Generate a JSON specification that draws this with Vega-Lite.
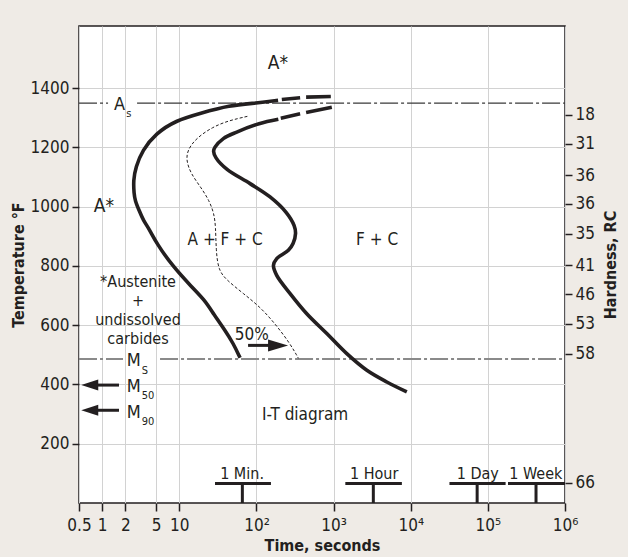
{
  "$schema": "https://vega.github.io/schema/vega-lite/v6.json",
  "width": 486,
  "height": 477,
  "autosize": {"type": "none"},
  "padding": {"left": 79, "top": 26, "right": 63, "bottom": 54},
  "background": "#efebe6",
  "config": {
    "view": {"fill": "white", "stroke": "#231f20", "strokeWidth": 1.5},
    "font": "DejaVu Sans Condensed, Liberation Sans, sans-serif",
    "axis": {
      "labelFont": "DejaVu Sans Condensed, Liberation Sans, sans-serif",
      "titleFont": "DejaVu Sans Condensed, Liberation Sans, sans-serif",
      "labelColor": "#231f20",
      "titleColor": "#231f20",
      "tickColor": "#231f20",
      "gridColor": "#d2d2d2",
      "gridWidth": 1,
      "domain": false,
      "labelFontSize": 17,
      "titleFontSize": 16,
      "titleFontWeight": "bold",
      "tickWidth": 1.5
    },
    "text": {"font": "DejaVu Sans Condensed, Liberation Sans, sans-serif", "color": "#231f20"}
  },
  "datasets": {
    "outer": [
      {"series": "outer", "t": 190.6, "T": 1359},
      {"series": "outer", "t": 101.8, "T": 1350},
      {"series": "outer", "t": 44.1, "T": 1342},
      {"series": "outer", "t": 18.6, "T": 1315},
      {"series": "outer", "t": 8.98, "T": 1291},
      {"series": "outer", "t": 4.94, "T": 1247},
      {"series": "outer", "t": 3.31, "T": 1190},
      {"series": "outer", "t": 2.72, "T": 1134},
      {"series": "outer", "t": 2.53, "T": 1089},
      {"series": "outer", "t": 2.585, "T": 1044},
      {"series": "outer", "t": 2.664, "T": 1021.5},
      {"series": "outer", "t": 3.0, "T": 988},
      {"series": "outer", "t": 3.41, "T": 954},
      {"series": "outer", "t": 4.05, "T": 926},
      {"series": "outer", "t": 5.09, "T": 875},
      {"series": "outer", "t": 8.36, "T": 796.5},
      {"series": "outer", "t": 14.5, "T": 729},
      {"series": "outer", "t": 21.5, "T": 684},
      {"series": "outer", "t": 27.6, "T": 639},
      {"series": "outer", "t": 39.1, "T": 583},
      {"series": "outer", "t": 50.2, "T": 538},
      {"series": "outer", "t": 61.3, "T": 490},
      {"series": "outer_d1", "t": 213, "T": 1362},
      {"series": "outer_d1", "t": 368, "T": 1368},
      {"series": "outer_d2", "t": 440, "T": 1370},
      {"series": "outer_d2", "t": 920, "T": 1372}
    ],
    "inner": [
      {"series": "inner", "t": 192, "T": 1295},
      {"series": "inner", "t": 108, "T": 1280},
      {"series": "inner", "t": 55.5, "T": 1252},
      {"series": "inner", "t": 37.2, "T": 1230},
      {"series": "inner", "t": 29.0, "T": 1201},
      {"series": "inner", "t": 27.8, "T": 1187},
      {"series": "inner", "t": 29.9, "T": 1165},
      {"series": "inner", "t": 41.6, "T": 1126},
      {"series": "inner", "t": 82.6, "T": 1078},
      {"series": "inner", "t": 150, "T": 1033},
      {"series": "inner", "t": 242, "T": 981},
      {"series": "inner", "t": 307, "T": 937},
      {"series": "inner", "t": 321, "T": 910},
      {"series": "inner", "t": 298, "T": 876},
      {"series": "inner", "t": 259, "T": 853},
      {"series": "inner", "t": 183, "T": 825},
      {"series": "inner", "t": 166, "T": 802},
      {"series": "inner", "t": 183, "T": 768.5},
      {"series": "inner", "t": 273, "T": 707},
      {"series": "inner", "t": 449, "T": 639},
      {"series": "inner", "t": 816, "T": 572},
      {"series": "inner", "t": 1483, "T": 504},
      {"series": "inner", "t": 2697, "T": 448},
      {"series": "inner", "t": 4898, "T": 408.5},
      {"series": "inner", "t": 8894, "T": 375},
      {"series": "inner_d1", "t": 206.5, "T": 1299},
      {"series": "inner_d1", "t": 368, "T": 1314},
      {"series": "inner_d2", "t": 440, "T": 1318},
      {"series": "inner_d2", "t": 948, "T": 1336}
    ],
    "p50": [
      {"t": 76.2, "T": 1305},
      {"t": 44.1, "T": 1291},
      {"t": 26.8, "T": 1269},
      {"t": 16.3, "T": 1230},
      {"t": 12.7, "T": 1190},
      {"t": 12.3, "T": 1156},
      {"t": 14.06, "T": 1112},
      {"t": 18.96, "T": 1066},
      {"t": 24.3, "T": 1021.5},
      {"t": 28.2, "T": 977},
      {"t": 29.6, "T": 931},
      {"t": 29.9, "T": 853},
      {"t": 32.1, "T": 785},
      {"t": 41.2, "T": 752},
      {"t": 67.6, "T": 707},
      {"t": 111.4, "T": 661.5},
      {"t": 174, "T": 605.6},
      {"t": 273, "T": 538},
      {"t": 349.6, "T": 488.5}
    ]
  },
  "layer": [
    {
      "encoding": {
        "x": {
          "field": "t",
          "type": "quantitative",
          "scale": {"type": "log", "domain": [0.5, 1000000], "nice": false},
          "axis": {
            "title": "Time, seconds",
            "values": [0.5, 1, 2, 5, 10, 100, 1000, 10000, 100000, 1000000],
            "labelExpr": "datum.value == 100 ? '10²' : datum.value == 1000 ? '10³' : datum.value == 10000 ? '10⁴' : datum.value == 100000 ? '10⁵' : datum.value == 1000000 ? '10⁶' : '' + datum.value",
            "tickSize": 8,
            "labelPadding": 6,
            "titlePadding": 4,
            "grid": true,
            "labelFlush": false,
            "labelOverlap": false
          }
        },
        "y": {
          "field": "T",
          "type": "quantitative",
          "scale": {"domain": [0, 1610], "nice": false, "zero": false},
          "axis": {
            "title": "Temperature °F",
            "values": [200, 400, 600, 800, 1000, 1200, 1400],
            "format": "d",
            "tickSize": 7,
            "labelPadding": 3,
            "titlePadding": 4,
            "grid": true
          }
        }
      },
      "layer": [
        {
          "data": {"values": [
            {"T": 1350, "t": 0.5, "t2": 1.19},
            {"T": 1350, "t": 2.83, "t2": 1000000}
          ]},
          "mark": {"type": "rule", "color": "#3a3a3a", "strokeWidth": 1.2, "strokeDash": [18, 3, 3, 3]},
          "encoding": {"x2": {"field": "t2"}}
        },
        {
          "data": {"values": [
            {"T": 486, "t": 0.5, "t2": 1.86},
            {"T": 486, "t": 5.62, "t2": 1000000}
          ]},
          "mark": {"type": "rule", "color": "#8a8a8a", "strokeWidth": 2, "strokeDash": [18, 3, 3, 3]},
          "encoding": {"x2": {"field": "t2"}}
        },
        {
          "data": {"name": "outer"},
          "mark": {"type": "line", "color": "#231f20", "strokeWidth": 3.6, "interpolate": "basis", "strokeCap": "butt"},
          "encoding": {"detail": {"field": "series"}, "order": {"value": null}}
        },
        {
          "data": {"name": "inner"},
          "mark": {"type": "line", "color": "#231f20", "strokeWidth": 3.6, "interpolate": "catmull-rom", "strokeCap": "butt"},
          "encoding": {"detail": {"field": "series"}, "order": {"value": null}}
        },
        {
          "data": {"name": "p50"},
          "mark": {"type": "line", "color": "#231f20", "strokeWidth": 1, "interpolate": "basis", "strokeDash": [3, 2]},
          "encoding": {"order": {"value": null}}
        },
        {
          "data": {"values": [
            {"T": 398, "t": 0.85, "t2": 1.65},
            {"T": 313, "t": 0.85, "t2": 1.65},
            {"T": 532, "t": 77.8, "t2": 160}
          ]},
          "mark": {"type": "rule", "color": "#231f20", "strokeWidth": 3},
          "encoding": {"x2": {"field": "t2"}}
        },
        {
          "data": {"values": [
            {"T": 398, "t": 0.689},
            {"T": 313, "t": 0.689}
          ]},
          "mark": {"type": "point", "shape": "M -1 0 L 1 -0.65 L 1 0.65 Z", "size": 289, "filled": true, "color": "#231f20", "opacity": 1}
        },
        {
          "data": {"values": [
            {"T": 532, "t": 190.6}
          ]},
          "mark": {"type": "point", "shape": "M 1 0 L -1 -0.6 L -1 0.6 Z", "size": 400, "filled": true, "color": "#231f20", "opacity": 1}
        },
        {
          "data": {"values": [
            {"T": 65.8, "t": 29, "t2": 154},
            {"T": 65.8, "t": 1419, "t2": 7674},
            {"T": 65.8, "t": 31770, "t2": 169800},
            {"T": 65.8, "t": 182400, "t2": 1000000}
          ]},
          "mark": {"type": "rule", "color": "#231f20", "strokeWidth": 3},
          "encoding": {"x2": {"field": "t2"}}
        },
        {
          "data": {"values": [
            {"t": 65.6, "T": 0, "T2": 65.8},
            {"t": 3273, "T": 0, "T2": 65.8},
            {"t": 72600, "T": 0, "T2": 65.8},
            {"t": 421000, "T": 0, "T2": 65.8}
          ]},
          "mark": {"type": "rule", "color": "#231f20", "strokeWidth": 3},
          "encoding": {"y2": {"field": "T2"}}
        },
        {
          "data": {"values": [
            {"txt": "A*", "t": 190, "T": 1466},
            {"txt": "A*", "t": 1.05, "T": 982}
          ]},
          "mark": {"type": "text", "fontSize": 19, "align": "center", "baseline": "alphabetic"},
          "encoding": {"text": {"field": "txt"}}
        },
        {
          "data": {"values": [
            {"txt": "A + F + C", "t": 39.2, "T": 870},
            {"txt": "F + C", "t": 3664, "T": 870},
            {"txt": "50%", "t": 86.9, "T": 551.6},
            {"txt": "I-T diagram", "t": 427, "T": 279.3}
          ]},
          "mark": {"type": "text", "fontSize": 17, "align": "center", "baseline": "alphabetic"},
          "encoding": {"text": {"field": "txt"}}
        },
        {
          "data": {"values": [
            {"lines": ["*Austenite", "+", "undissolved", "carbides"], "t": 2.91, "T": 728}
          ]},
          "mark": {"type": "text", "fontSize": 16, "align": "center", "baseline": "alphabetic", "lineHeight": 18.8},
          "encoding": {"text": {"field": "lines"}}
        },
        {
          "data": {"values": [
            {"txt": "A", "t": 1.42, "T": 1325},
            {"txt": "M", "t": 2.08, "T": 461.5},
            {"txt": "M", "t": 2.08, "T": 374.8},
            {"txt": "M", "t": 2.08, "T": 288.4}
          ]},
          "mark": {"type": "text", "fontSize": 18, "align": "left", "baseline": "alphabetic"},
          "encoding": {"text": {"field": "txt"}}
        },
        {
          "data": {"values": [
            {"txt": "s", "t": 2.05, "T": 1302.6},
            {"txt": "S", "t": 3.25, "T": 437},
            {"txt": "50", "t": 3.25, "T": 352.5},
            {"txt": "90", "t": 3.25, "T": 262.5}
          ]},
          "mark": {"type": "text", "fontSize": 11, "align": "left", "baseline": "alphabetic"},
          "encoding": {"text": {"field": "txt"}}
        },
        {
          "data": {"values": [
            {"txt": "1 Min.", "t": 65, "T": 80},
            {"txt": "1 Hour", "t": 3350, "T": 80},
            {"txt": "1 Day", "t": 74000, "T": 80},
            {"txt": "1 Week", "t": 418000, "T": 80}
          ]},
          "mark": {"type": "text", "fontSize": 16, "align": "center", "baseline": "alphabetic"},
          "encoding": {"text": {"field": "txt"}}
        }
      ]
    },
    {
      "data": {"values": [
        {"T": 1310, "rc": 18},
        {"T": 1213, "rc": 31},
        {"T": 1106, "rc": 36},
        {"T": 1010, "rc": 36},
        {"T": 909, "rc": 35},
        {"T": 803, "rc": 41},
        {"T": 705, "rc": 46},
        {"T": 605, "rc": 53},
        {"T": 504, "rc": 58},
        {"T": 68, "rc": 66}
      ]},
      "mark": {"type": "point", "opacity": 0},
      "encoding": {
        "y": {
          "field": "T",
          "type": "quantitative",
          "scale": {"domain": [0, 1610], "nice": false, "zero": false},
          "axis": {
            "orient": "right",
            "title": "Hardness, RC",
            "values": [1310, 1213, 1106, 1010, 909, 803, 705, 605, 504, 68],
            "labelExpr": "['18','31','36','36','35','41','46','53','58','66'][indexof([1310,1213,1106,1010,909,803,705,605,504,68], datum.value)]",
            "tickSize": 7,
            "labelPadding": 3,
            "titleAngle": 270,
            "titleBaseline": "top",
            "titlePadding": 8,
            "grid": false
          }
        }
      }
    }
  ],
  "resolve": {"scale": {"y": "independent"}}
}
